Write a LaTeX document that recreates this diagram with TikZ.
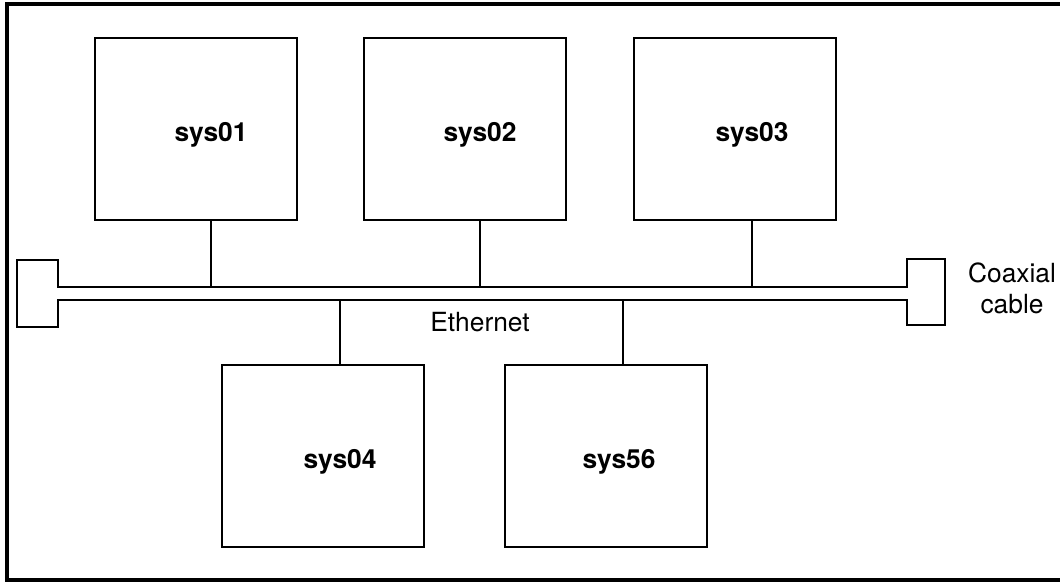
\documentclass[tikz,border=0pt]{standalone}
\usepackage{fontspec}
\setmainfont{TeX Gyre Heros}
\usetikzlibrary{positioning}
\tikzstyle{system} = [
    rectangle,
    minimum width=4.04cm,
    minimum height=3.64cm,
    line width=1.5pt,
    draw=black
]
\tikzstyle{sysname} = [
    font=\fontsize{15}{17}\selectfont\bfseries,
    yshift=-0.12cm
]
\tikzstyle{cable} = [line width=1.5pt, line join=miter]
\tikzstyle{drop} = [line width=1.1pt]
\tikzstyle{frame} = [line width=2pt]
\tikzstyle{caption} = [font=\fontsize{15}{17.5}\selectfont, align=center, inner sep=0pt]

\begin{document}
\begin{tikzpicture}[x=0.02cm, y=-0.02cm]

\useasboundingbox (0,0) rectangle (1060,583);

% outer frame, open on the right
\draw [frame] (1060,4) -- (7,4) -- (7,580) -- (1060,580);

\node (sys01) [system, label={[sysname, xshift=0.3cm]center:sys01}] at (196,129) {};
\node (sys02) [system, label={[sysname, xshift=0.3cm]center:sys02}] at (465,129) {};
\node (sys03) [system, label={[sysname, xshift=0.34cm]center:sys03}] at (735,129) {};
\node (sys04) [system, label={[sysname, xshift=0.34cm]center:sys04}] at (323,456) {};
\node (sys56) [system, label={[sysname, xshift=0.26cm]center:sys56}] at (606,456) {};

% coaxial cable with its two end caps
\draw [cable] (58,287) -- (58,260) -- (17,260) -- (17,327) -- (58,327)
    -- (58,300) -- (907,300) -- (907,325) -- (945,325) -- (945,259)
    -- (907,259) -- (907,287) -- cycle;
\coordinate (cabtop) at (0,287);
\coordinate (cabbot) at (0,300);

\node (ethernet) [caption] at (480,322) {Ethernet};
\node (coax) [caption] at (1012,288) {Coaxial\\cable};

\draw [drop] ([xshift=0.3cm]sys01.south) -- ([xshift=0.3cm]sys01.south |- cabtop);
\draw [drop] ([xshift=0.3cm]sys02.south) -- ([xshift=0.3cm]sys02.south |- cabtop);
\draw [drop] ([xshift=0.34cm]sys03.south) -- ([xshift=0.34cm]sys03.south |- cabtop);
\draw [drop] ([xshift=0.34cm]sys04.north) -- ([xshift=0.34cm]sys04.north |- cabbot);
\draw [drop] ([xshift=0.34cm]sys56.north) -- ([xshift=0.34cm]sys56.north |- cabbot);

\end{tikzpicture}
\end{document}
